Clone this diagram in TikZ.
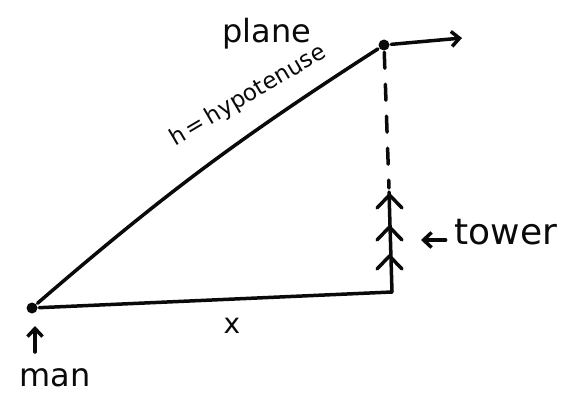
\documentclass[tikz,border=0pt]{standalone}
\usepackage{fontspec}
\setsansfont{DejaVu Sans}
\usetikzlibrary{arrows.meta,positioning}
\definecolor{ink}{RGB}{10,10,10}

\begin{document}
\begin{tikzpicture}[x=1pt, y=-1pt, line width=3.5pt, line cap=round, line join=round,
    dotpt/.style={circle, fill=ink, inner sep=0pt, minimum size=11pt},
    hand/.style={ink, font=\sffamily},
    tip/.style={-{Straight Barb[length=8pt,width=15pt]}}]
\useasboundingbox (0,0) rectangle (570,401);
% Man and plane
\node[dotpt] (man) at (32,308) {};
\node[dotpt] (plane) at (384,45) {};
\coordinate (base) at (392,292);
\coordinate (towertop) at (389,188);
\coordinate (head) at (462,38);
% Triangle
\draw[ink] (man) to[bend left=4] (plane);
\draw[ink] (man) -- (base);
\draw[ink, dash pattern=on 16pt off 16pt] (plane) -- (towertop);
\draw[ink, tip] (plane) -- (head);
% Tower
\draw[ink] (base) -- (389,192);
\foreach \y in {195,227,256} {
  \draw[ink] (377,\y+13) -- (389.5,\y) -- (402,\y+13);
}
% Labels
\node[hand, font=\sffamily\fontsize{32}{36}\selectfont] (planelabel) at (267,34) {plane};
\node[hand, font=\sffamily\fontsize{23}{26}\selectfont, rotate=30.5] (hyp) at (248,96) {h\,=\,hypotenuse};
\node[hand, font=\sffamily\fontsize{28}{32}\selectfont] (xlabel) at (232,326) {x};
\node[hand, font=\sffamily\fontsize{32}{36}\selectfont] (manlabel) at (55,378) {man};
\coordinate (mantip) at (35,326);
\draw[ink, tip] (35,352) -- (mantip);
\node[hand, font=\sffamily\fontsize{36}{40}\selectfont] (towerlabel) at (506,232) {tower};
\coordinate (towertip) at (421,240);
\draw[ink, tip] (towerlabel.west |- towertip) ++(-4,0) -- (towertip);
\end{tikzpicture}
\end{document}
